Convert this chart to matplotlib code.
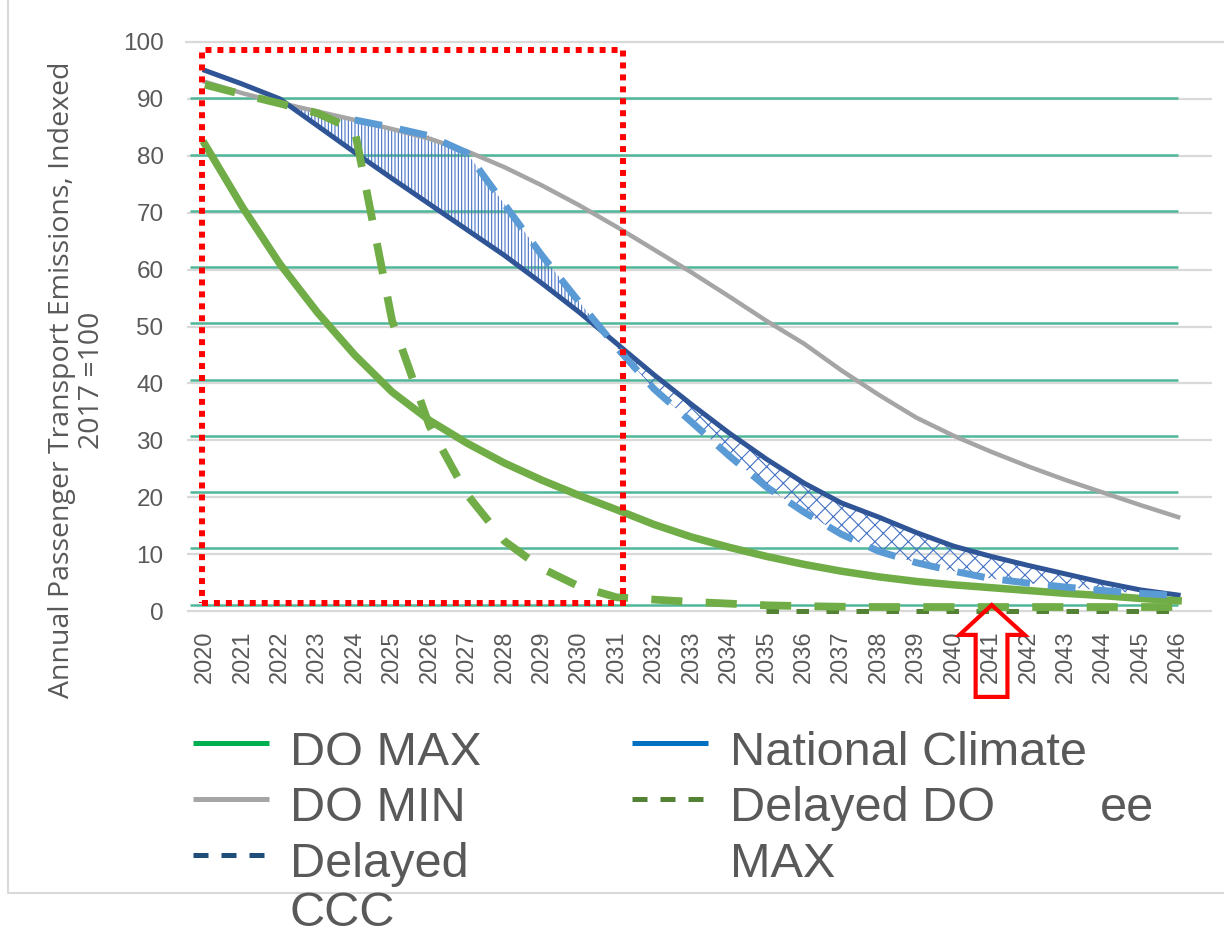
import numpy as np
import matplotlib
matplotlib.use("Agg")
import matplotlib.pyplot as plt
import matplotlib.transforms as mtransforms
from matplotlib.patches import Rectangle, Polygon
from matplotlib.lines import Line2D

plt.rcParams["font.family"] = ["Liberation Sans", "DejaVu Sans"]
plt.rcParams["hatch.linewidth"] = 0.8

# categories
years = [str(y) for y in range(2020, 2047)]

# series (index, 2017 = 100)
do_max = [82, 71, 61, 52.5, 45, 38.5, 33.5, 29.5, 26, 23, 20.3, 17.8, 15.2, 13,
          11.2, 9.6, 8.2, 7, 6, 5.2, 4.6, 4.1, 3.6, 3.1, 2.7, 2.2, 1.8]
do_min = [93, 91, 89.3, 87.8, 86.3, 84.7, 83, 80.8, 78, 74.8, 71.3, 67.5, 63.5, 59.5,
          55.3, 51, 47, 42.3, 38, 34, 30.8, 28, 25.4, 23, 20.8, 18.6, 16.5]
ccc = [95, 92.6, 90, 85.3, 80.6, 76, 71.5, 67, 62.5, 57.6, 52.5, 47, 41.5, 36.3,
       31.3, 26.7, 22.5, 19, 16.5, 13.8, 11.4, 9.6, 8, 6.5, 5, 3.7, 2.8]
delayed_ccc = [np.nan, np.nan, np.nan, np.nan, 86.3, 85, 83.5, 80.5, 71.5, 62.5, 54.3,
               46.3, 39, 33.2, 27.3, 21.8, 17.4, 13.5, 10.5, 8.5, 7, 5.7, 4.9, 4.2,
               3.6, 3.1, 2.7]
delayed_do_max = [92.5, 90.8, 89.2, 87.5, 84.5, 51, 32.5, 20.5, 12.3, 7.5, 4.3, 2.4,
                  2.0, 1.6, 1.3, 1.0, 0.85, 0.75, 0.7, 0.7, 0.7, 0.7, 0.7, 0.7, 0.7,
                  0.7, 0.7]
base_line = [np.nan] * 15 + [0] * 12  # dark green dashed line lying on the axis

yticks = list(range(0, 101, 10))

x = np.arange(len(years))
do_max, do_min, ccc = map(np.array, (do_max, do_min, ccc))
delayed_ccc, delayed_do_max, base_line = map(np.array, (delayed_ccc, delayed_do_max, base_line))

W, H = 1224, 934
fig = plt.figure(figsize=(W / 100, H / 100), dpi=100)
ax = fig.add_axes([190 / W, 1 - 611 / H, 990 / W, 569 / H])
ax.set_xlim(-0.4, 26.05)
ax.set_ylim(0, 100)
for s in ax.spines.values():
    s.set_visible(False)
ax.patch.set_visible(False)

ax.set_yticks(yticks)
ax.tick_params(axis="y", length=0, pad=19, labelsize=17.5, labelcolor="#595959")
ax.set_xticks(x)
ax.set_xticklabels(years, rotation=90)
ax.tick_params(axis="x", length=0, pad=14, labelsize=17, labelcolor="#595959")

# grey gridlines of the labelled axis (mostly hidden) and the teal ones on top
ytr = ax.get_yaxis_transform()
ax.hlines(yticks[:-1], -0.003, 1.032, transform=ytr, colors="#D9D9D9", lw=1.6,
          zorder=0.5, clip_on=False)
ax.hlines(100, -0.005, 1.05, transform=ytr, colors="#D9D9D9", lw=1.6,
          zorder=0.5, clip_on=False)
teal_tr = mtransforms.Affine2D().scale(1, 0.9886).translate(0, 1.14) + ytr
ax.hlines(yticks[:-1], 0, 0.998, transform=teal_tr, colors="#4FB798", lw=1.8, zorder=1)

# hatched gap between CCC and delayed CCC
upper = np.where(np.isnan(delayed_ccc), do_min, delayed_ccc)
ax.fill_between(x, ccc, upper, where=(x <= 11) & (upper >= ccc), interpolate=True,
                facecolor="none", edgecolor="#4472C4", hatch="|||||", lw=0, zorder=2)
ax.fill_between(x, delayed_ccc, ccc, where=(x >= 11), interpolate=True,
                facecolor="none", edgecolor="#4472C4", hatch="xx", lw=0, zorder=2)

ax.plot(x, do_min, color="#A5A5A5", lw=3.2, zorder=3, clip_on=False)
ax.plot(x, ccc, color="#2F5597", lw=3.6, zorder=4, clip_on=False)
ax.plot(x, base_line, color="#548235", lw=3.6, dashes=(2.5, 3.5), zorder=4.5,
        clip_on=False)
ax.plot(x, do_max, color="#70AD47", lw=5.4, zorder=5, clip_on=False)
ax.plot(x, delayed_ccc, color="#5B9BD5", lw=5, dashes=(4, 2.6),
        dash_capstyle="butt", zorder=6, clip_on=False)
ax.plot(x, delayed_do_max, color="#70AD47", lw=5.6, dashes=(4, 3),
        dash_capstyle="butt", zorder=7, clip_on=False)

# red dotted box over 2020-2031
ax.add_patch(Rectangle((-0.09, 1.46), 11.26, 97.1, fill=False, edgecolor="#FF0000",
                       lw=4.3, linestyle=(0, (1, 1)), zorder=8, clip_on=False))

# red outlined arrow pointing at 2041
arrow = [(21.02, 1.05), (21.9, -4.2), (21.44, -4.2), (21.44, -15.1),
         (20.59, -15.1), (20.59, -4.2), (20.16, -4.2)]
ax.add_patch(Polygon(arrow, closed=True, fill=False, edgecolor="#FF0000", lw=3,
                     zorder=9, clip_on=False))

# axis title
fig.text(77 / W, 1 - 380 / H, "Annual Passenger Transport Emissions, Indexed\n2017 =100",
         rotation=90, ha="center", va="center", fontsize=20.5, family="Open Sans",
         color="#595959", linespacing=1.1, multialignment="center")

# legend (drawn by hand, as it is laid out in the picture)
def fx(px):
    return px / W

def fy(py):
    return 1 - py / H

keys = [
    (193, 743, "#00B050", "-"),
    (193, 799, "#A5A5A5", "-"),
    (193, 855, "#1F4E79", "--"),
    (632, 743, "#0070C0", "-"),
    (632, 799, "#548235", "--"),
]
for kx, ky, col, ls in keys:
    ln = Line2D([fx(kx), fx(kx + 76)], [fy(ky), fy(ky)], transform=fig.transFigure,
                color=col, lw=3.6, solid_capstyle="butt", dash_capstyle="butt")
    if ls == "--":
        ln.set_dashes((3, 2.6))
    fig.add_artist(ln)

legend_texts = [
    (290, 766, "DO MAX"),
    (290, 821, "DO MIN"),
    (290, 877, "Delayed"),
    (290, 926, "CCC"),
    (730, 766, "National Climate"),
    (730, 821, "Delayed DO"),
    (730, 877, "MAX"),
    (1100, 821, "ee"),
]
for tx, ty, s in legend_texts:
    fig.text(fx(tx), fy(ty), s, fontsize=35, color="#595959", ha="left",
             va="baseline")

# the first legend row is cut off at the bottom
fig.add_artist(Rectangle((fx(280), fy(777)), fx(1100) - fx(280), fy(765) - fy(777),
                         transform=fig.transFigure, facecolor="white",
                         edgecolor="none", zorder=4))

# chart frame
fig.add_artist(Line2D([fx(8), fx(8), fx(W)], [fy(0), fy(893), fy(893)],
                      transform=fig.transFigure, color="#D9D9D9", lw=1.5))

fig.savefig("out.png", dpi=100)
